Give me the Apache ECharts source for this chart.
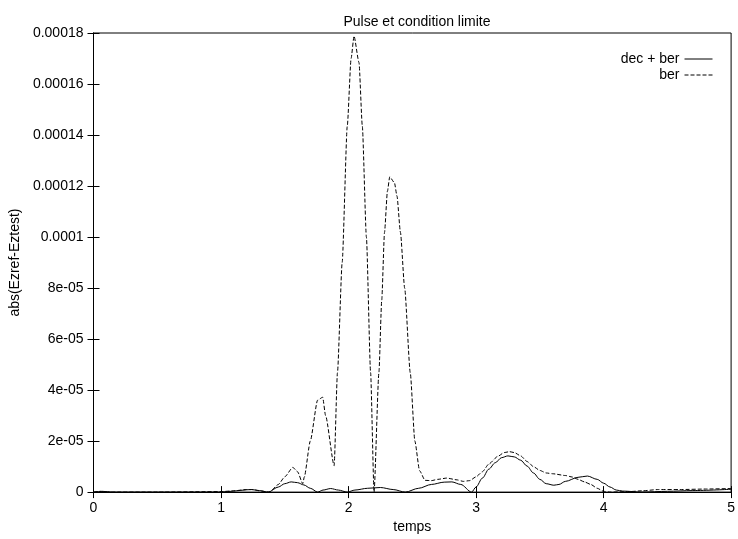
<!DOCTYPE html>
<html>
<head>
<meta charset="utf-8">
<script src="https://cdn.jsdelivr.net/npm/echarts@6/dist/echarts.min.js"></script>
<style>html,body{margin:0;padding:0;background:#fff}#c{width:738px;height:539px}</style>
</head>
<body>
<div id="c"></div>
<script>
// values in units of 1e-5
const UNIT = 1e-5;
const xTicks = [0, 1, 2, 3, 4, 5];
const yTickLabels = ['0','2e-05','4e-05','6e-05','8e-05','0.0001','0.00012','0.00014','0.00016','0.00018'];

const tDec = [0,0.07,0.15,1.0,1.1,1.2,1.24,1.3,1.37,1.45,1.5,1.55,1.6,1.65,1.7,1.758,1.8,1.86,1.92,1.99,2.05,2.15,2.25,2.35,2.445,2.55,2.65,2.75,2.81,2.88,2.965,3.0,3.05,3.1,3.15,3.2,3.25,3.3,3.35,3.4,3.45,3.5,3.55,3.61,3.65,3.7,3.8,3.873,3.95,4.0,4.05,4.1,4.15,4.3,4.5,4.7,5.0];
const vDec = [0,0.03,0,0,0.04,0.09,0.1,0.06,0,0.2,0.33,0.4,0.37,0.28,0.15,0,0.08,0.14,0.08,0,0.08,0.15,0.18,0.1,0,0.15,0.3,0.39,0.4,0.3,0,0.2,0.55,0.9,1.15,1.35,1.42,1.38,1.25,1.02,0.75,0.5,0.33,0.27,0.3,0.42,0.58,0.63,0.5,0.35,0.2,0.08,0.04,0,0.03,0.06,0.11];

const tBer = [0,0.05,0.1,0.5,1.0,1.1,1.2,1.25,1.3,1.38,1.45,1.5,1.563,1.6,1.641,1.653,1.7,1.757,1.797,1.82,1.887,1.913,1.95,1.99,2.02,2.043,2.082,2.108,2.14,2.173,2.2,2.238,2.26,2.282,2.305,2.323,2.36,2.38,2.407,2.44,2.484,2.52,2.557,2.6,2.65,2.7,2.77,2.85,2.9,2.95,3.0,3.05,3.1,3.17,3.22,3.263,3.3,3.35,3.4,3.45,3.5,3.55,3.6,3.7,3.756,3.8,3.85,3.9,3.95,4.0,4.05,4.2,4.3,4.43,4.6,4.8,5.0];
const vBer = [0,0.03,0,0,0.02,0.05,0.1,0.1,0.05,0,0.3,0.6,0.97,0.8,0.33,0.59,2.0,3.6,3.72,3.0,1.04,4.68,9.0,14.35,17.0,17.88,16.84,14.35,10.0,4.68,0,4.68,7.5,10.18,11.8,12.36,12.13,11.6,10.18,8.0,4.68,2.0,0.84,0.46,0.45,0.5,0.55,0.48,0.42,0.45,0.6,0.8,1.1,1.4,1.55,1.585,1.55,1.42,1.2,1.0,0.85,0.75,0.72,0.65,0.59,0.5,0.4,0.3,0.15,0.03,0,0.02,0.05,0.1,0.1,0.12,0.14];

const decData = tDec.map((t, i) => [t, vDec[i] * UNIT]);
const berData = tBer.map((t, i) => [t, vBer[i] * UNIT]);

const FONT = 'Liberation Sans, Arial, Helvetica, sans-serif';
const chart = echarts.init(document.getElementById('c'), null, {renderer: 'canvas'});
const yFmt = v => yTickLabels[Math.round(v / (2 * UNIT))] || '';
const axisCommon = {
  min: 0,
  splitLine: {show: false},
  axisLine: {show: true, lineStyle: {color: '#000', width: 1}},
  axisTick: {show: true, inside: true, length: 6, lineStyle: {color: '#000'}},
};
const legendCommon = {
  orient: 'vertical', align: 'right', itemWidth: 28, itemHeight: 14, itemGap: 6,
  itemStyle: {color: 'rgba(0,0,0,0)', borderWidth: 0, opacity: 0},
  lineStyle: {width: 1},
  textStyle: {fontFamily: FONT, fontSize: 14, color: '#000'}
};
chart.setOption({
  animation: false,
  backgroundColor: '#fff',
  title: {
    text: 'Pulse et condition limite',
    left: 412, top: 10, textAlign: 'center',
    textStyle: {fontFamily: FONT, fontSize: 14, fontWeight: 'normal', color: '#000'}
  },
  legend: [
    Object.assign({data: [{name: 'dec + ber'}], right: 20, top: 47}, legendCommon),
    Object.assign({data: [{name: 'ber'}], right: 20, top: 63}, legendCommon)
  ],
  grid: {left: 91, right: 5, top: 33, bottom: 37, show: true, borderColor: '#000', borderWidth: 1},
  xAxis: [
    Object.assign({}, axisCommon, {
      type: 'value', max: 5, interval: 1, position: 'bottom',
      name: 'temps', nameLocation: 'middle', nameGap: 22,
      nameTextStyle: {fontFamily: FONT, fontSize: 14, color: '#000'},
      axisLabel: {fontFamily: FONT, fontSize: 14, color: '#000', margin: 9,
        formatter: v => String(xTicks[Math.round(v)])}
    }),
    Object.assign({}, axisCommon, {
      type: 'value', max: 5, interval: 1, position: 'top', axisLabel: {show: false}
    })
  ],
  yAxis: [
    Object.assign({}, axisCommon, {
      type: 'value', max: 18 * UNIT, interval: 2 * UNIT, position: 'left',
      name: 'abs(Ezref-Eztest)', nameLocation: 'middle', nameGap: 70,
      nameTextStyle: {fontFamily: FONT, fontSize: 14, color: '#000'},
      axisLabel: {fontFamily: FONT, fontSize: 14, color: '#000', margin: 10, formatter: yFmt}
    }),
    Object.assign({}, axisCommon, {
      type: 'value', max: 18 * UNIT, interval: 2 * UNIT, position: 'right', axisLabel: {show: false}
    })
  ],
  series: [
    {name: 'dec + ber', type: 'line', data: decData, symbol: 'none', smooth: 0.3, smoothMonotone: 'x',
     lineStyle: {color: '#000', width: 1, type: 'solid'}, itemStyle: {color: '#000'}},
    {name: 'ber', type: 'line', data: berData, symbol: 'none', smooth: 0.2, smoothMonotone: 'x',
     lineStyle: {color: '#000', width: 1, type: [4, 2]}, itemStyle: {color: '#000'}}
  ]
});
</script>
</body>
</html>
